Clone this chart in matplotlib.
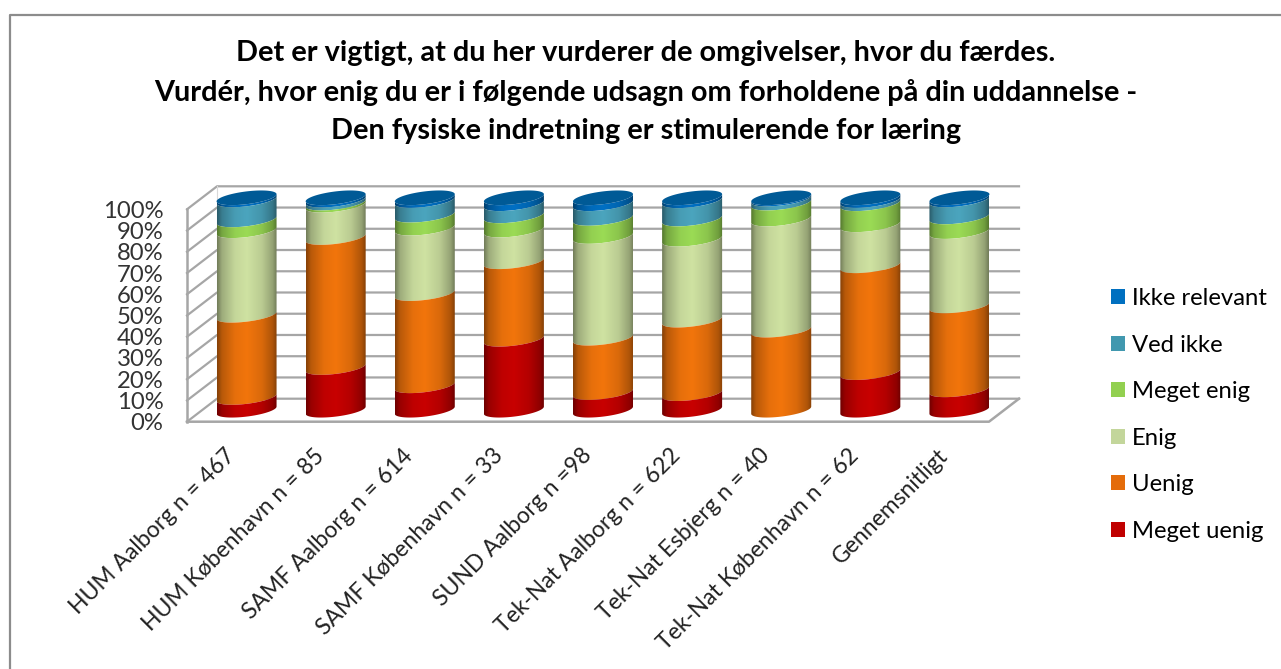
import numpy as np
import matplotlib
matplotlib.use('Agg')
import matplotlib.pyplot as plt
from matplotlib.lines import Line2D
from matplotlib.patches import Patch, PathPatch
from matplotlib.path import Path
from matplotlib.colors import to_rgb

plt.rcParams['font.family'] = ['Lato', 'DejaVu Sans']

title = ("Det er vigtigt, at du her vurderer de omgivelser, hvor du færdes.\n"
         "Vurdér, hvor enig du er i følgende udsagn om forholdene på din uddannelse -\n"
         "Den fysiske indretning er stimulerende for læring")

categories = ['HUM Aalborg n = 467', 'HUM København n = 85', 'SAMF Aalborg n = 614',
              'SAMF København n = 33', 'SUND Aalborg n =98', 'Tek-Nat Aalborg n = 622',
              'Tek-Nat Esbjerg n = 40', 'Tek-Nat København n = 62', 'Gennemsnitligt']

meget_uenig = [6.0, 20.1, 11.5, 33.4, 8.3, 7.8, 0.0, 17.7, 9.6]
uenig = [38.7, 61.2, 43.4, 36.5, 25.6, 34.6, 37.7, 50.3, 39.5]
enig = [39.8, 15.2, 30.8, 14.9, 47.9, 38.1, 52.3, 19.3, 35.0]
meget_enig = [5.1, 1.0, 6.1, 6.7, 8.5, 9.5, 7.5, 9.9, 6.9]
ved_ikke = [9.4, 1.4, 6.9, 5.7, 6.9, 8.6, 1.9, 1.5, 8.0]
ikke_relevant = [1.0, 1.1, 1.3, 2.8, 2.8, 1.4, 0.6, 1.3, 1.0]

series = [meget_uenig, uenig, enig, meget_enig, ved_ikke, ikke_relevant]
names = ['Meget uenig', 'Uenig', 'Enig', 'Meget enig', 'Ved ikke', 'Ikke relevant']
colors = ['#C80000', '#F2750C', '#CFE2A2', '#9BDB55', '#4BA5BE', '#0070C4']
legend_colors = ['#C00000', '#E46C0A', '#C3D69B', '#92D050', '#4198AF', '#0070C0']

W, H = 1281, 669
fig = plt.figure(figsize=(W / 100, H / 100), dpi=100)

# front plane of the 3D box, in pixels
ax = fig.add_axes([187 / W, 1 - 421.7 / H, 802 / W, 212.4 / H])
ax.set_xlim(-0.5, 8.5)
ax.set_ylim(0, 100)
ax.patch.set_visible(False)
for s in ax.spines.values():
    s.set_visible(False)

# depth of the box in data units
dx = 30 / (802 / 9)
dy = 23 / 2.124
grid = '#A6A6A6'
for v in range(0, 101, 10):
    ax.plot([-0.5, -0.5 + dx, 8.5 + dx], [v, v + dy, v + dy], color=grid, lw=1.6, clip_on=False, zorder=1)
ax.plot([-0.5, -0.5], [0, 100], color=grid, lw=1.8, clip_on=False, zorder=1)
ax.plot([-0.5 + dx, -0.5 + dx], [dy, 100 + dy], color='#D9D9D9', lw=0.8, clip_on=False, zorder=1)
ax.plot([-0.5, 8.5, 8.5 + dx], [0, 0, dy], color=grid, lw=1.8, clip_on=False, zorder=1)

# cylinders
r = 30 / (802 / 9)
skew = 3.6 / 2.124
b = 6.4 / 2.124
t = np.linspace(0, np.pi, 50)


def gradient(color):
    c = np.array(to_rgb(color))
    u = np.linspace(0, 1, 120)
    # shading: dark at both edges, brightest left of the middle
    f = np.interp(u, [0, 0.08, 0.3, 0.5, 0.75, 0.93, 1], [0.55, 0.76, 0.95, 1.0, 0.9, 0.72, 0.55])
    return np.clip(c[None, None, :] * f[None, :, None], 0, 1)


bottom = np.zeros(len(categories))
for col, vals in zip(colors, series):
    vals = np.array(vals)
    for i, (v, y0) in enumerate(zip(vals, bottom)):
        if v <= 0:
            continue
        cx = i + dx / 2
        y1 = y0 + v
        cy0 = y0 + dy / 2
        cy1 = y1 + dy / 2
        # lower front arc left to right, then upper front arc back
        xs0 = cx - r * np.cos(t)
        ys0 = cy0 - skew * np.cos(t) - b * np.sin(t)
        xs1 = cx + r * np.cos(t)
        ys1 = cy1 + skew * np.cos(t) - b * np.sin(t)
        pts = np.column_stack([np.r_[xs0, xs1], np.r_[ys0, ys1]])
        clip = PathPatch(Path(np.vstack([pts, pts[:1]]), closed=True), fc='none', ec='none', zorder=3)
        ax.add_patch(clip)
        im = ax.imshow(gradient(col), extent=[cx - r, cx + r, 0, 120], aspect='auto',
                       interpolation='bilinear', zorder=3 + 0.01 * (6 - y0 / 100))
        im.set_clip_box(fig.bbox)
        im.set_clip_path(clip)
    bottom = bottom + vals

# top surface of each stack
for i, y in enumerate(bottom):
    cx = i + dx / 2
    cy = y + dy / 2
    tt = np.linspace(0, 2 * np.pi, 100)
    ax.fill(cx + r * np.cos(tt), cy + skew * np.cos(tt) + b * np.sin(tt),
            color='#005A96', lw=0, zorder=4, clip_on=False)

ax.set_xlim(-0.5, 8.5)
ax.set_ylim(0, 100)

ax.set_yticks(range(0, 101, 10))
ax.set_yticklabels([f'{v}%' for v in range(0, 101, 10)], fontsize=17.2, color='#333333')
ax.set_xticks(range(len(categories)))
ax.set_xticklabels(categories, rotation=45, ha='right', va='center', rotation_mode='anchor',
                   fontsize=16.5, color='#222222')
ax.tick_params(axis='both', length=0)
ax.tick_params(axis='y', pad=17)
ax.tick_params(axis='x', pad=22)

fig.text(646 / W, 1 - 92 / H, title, ha='center', va='center', fontsize=20.8, fontweight='bold',
         color='black', linespacing=1.56)

handles = [Patch(fc=c, ec='none') for c in legend_colors[::-1]]
fig.legend(handles, names[::-1], loc='center left', bbox_to_anchor=(1111 / W, 1 - 415 / H),
           bbox_transform=fig.transFigure, frameon=False, fontsize=17.2, labelspacing=1.07,
           handlelength=0.59, handleheight=0.59, handletextpad=0.3, borderpad=0, borderaxespad=0)

# outer chart frame (only left and top are visible)
fig.add_artist(Line2D([10 / W, 10 / W, 1], [0, 1 - 14.5 / H, 1 - 14.5 / H], color='#8C8C8C', lw=1.6))

fig.savefig('out.png', dpi=100)
